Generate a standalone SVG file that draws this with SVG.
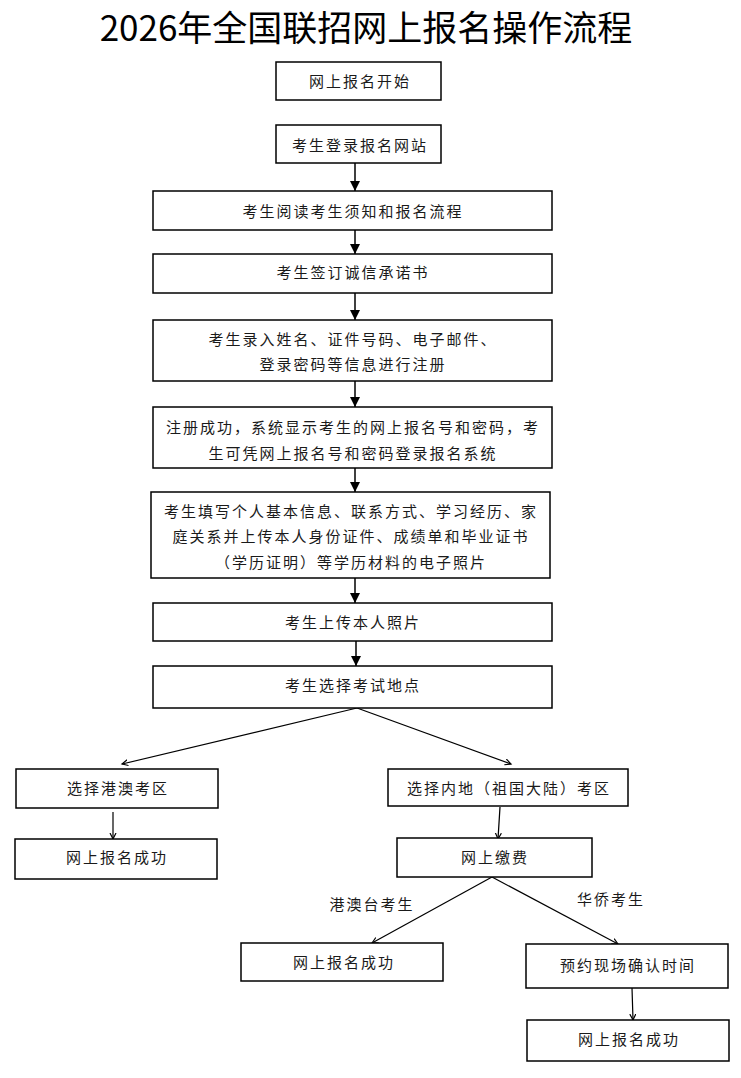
<svg xmlns="http://www.w3.org/2000/svg" width="741" height="1078" viewBox="0 0 741 1078">
<style>
.box{fill:#fff;stroke:#000;stroke-width:1.5}
.t{font-family:"Noto Sans CJK SC","Liberation Sans",sans-serif;font-size:15px;fill:#1a1a1a;text-anchor:middle;letter-spacing:2px}
.title{font-family:"Noto Sans CJK SC","Liberation Sans",sans-serif;font-size:35px;fill:#000;text-anchor:middle}
.c{stroke:#000;stroke-width:1.5;fill:none}
.thin{stroke:#000;stroke-width:1.2;fill:none}
</style>
<defs>
<marker id="fa" markerUnits="userSpaceOnUse" markerWidth="10" markerHeight="12" refX="10" refY="5" orient="auto">
<path d="M0,0 L10,5 L0,10 Z" fill="#000"/>
</marker>
<marker id="oa" markerUnits="userSpaceOnUse" markerWidth="8" markerHeight="8" refX="6" refY="3.5" orient="auto">
<path d="M0,0.5 L6,3.5 L0,6.5" fill="none" stroke="#000" stroke-width="1.2"/>
</marker>
</defs>
<rect width="741" height="1078" fill="#fff"/>
<text class="title" x="366" y="41">2026年全国联招网上报名操作流程</text>
<g id="connectors">
<line class="c" x1="355" y1="163" x2="355" y2="191" marker-end="url(#fa)"/>
<line class="c" x1="355" y1="230" x2="355" y2="254" marker-end="url(#fa)"/>
<line class="c" x1="355" y1="293" x2="355" y2="320" marker-end="url(#fa)"/>
<line class="c" x1="355" y1="381" x2="355" y2="407" marker-end="url(#fa)"/>
<line class="c" x1="355" y1="468" x2="355" y2="492" marker-end="url(#fa)"/>
<line class="c" x1="355" y1="578" x2="355" y2="603" marker-end="url(#fa)"/>
<line class="c" x1="356" y1="641" x2="356" y2="666" marker-end="url(#fa)"/>
<line class="thin" x1="357" y1="708" x2="122" y2="764" marker-end="url(#oa)"/>
<line class="thin" x1="357" y1="708" x2="511" y2="764" marker-end="url(#oa)"/>
<line class="thin" x1="113" y1="812" x2="113" y2="839" marker-end="url(#oa)"/>
<line class="thin" x1="500" y1="807" x2="498" y2="839" marker-end="url(#oa)"/>
<line class="thin" x1="492" y1="877" x2="372" y2="943" marker-end="url(#oa)"/>
<line class="thin" x1="492" y1="877" x2="618" y2="944" marker-end="url(#oa)"/>
<line class="thin" x1="632" y1="988" x2="633" y2="1020" marker-end="url(#oa)"/>
</g>
<g id="n1"><rect class="box" x="276" y="62" width="165" height="38"/><text class="t" x="360" y="87">网上报名开始</text></g>
<g id="n2"><rect class="box" x="276" y="125" width="165" height="38"/><text class="t" x="360" y="151">考生登录报名网站</text></g>
<g id="n3"><rect class="box" x="153" y="191" width="399" height="39"/><text class="t" x="353" y="217">考生阅读考生须知和报名流程</text></g>
<g id="n4"><rect class="box" x="153" y="254" width="399" height="39"/><text class="t" x="353" y="278">考生签订诚信承诺书</text></g>
<g id="n5"><rect class="box" x="153" y="320" width="399" height="61"/><text class="t" x="353" y="345">考生录入姓名、证件号码、电子邮件、</text><text class="t" x="353" y="370">登录密码等信息进行注册</text></g>
<g id="n6"><rect class="box" x="153" y="407" width="399" height="61"/><text class="t" x="353" y="433">注册成功，系统显示考生的网上报名号和密码，考</text><text class="t" x="353" y="459">生可凭网上报名号和密码登录报名系统</text></g>
<g id="n7"><rect class="box" x="151" y="492" width="399" height="86"/><text class="t" x="351" y="517">考生填写个人基本信息、联系方式、学习经历、家</text><text class="t" x="351" y="542">庭关系并上传本人身份证件、成绩单和毕业证书</text><text class="t" x="351" y="568">（学历证明）等学历材料的电子照片</text></g>
<g id="n8"><rect class="box" x="153" y="603" width="399" height="38"/><text class="t" x="353" y="628">考生上传本人照片</text></g>
<g id="n9"><rect class="box" x="153" y="666" width="399" height="42"/><text class="t" x="353" y="691">考生选择考试地点</text></g>
<g id="n10"><rect class="box" x="16" y="769" width="202" height="39"/><text class="t" x="118" y="794">选择港澳考区</text></g>
<g id="n11"><rect class="box" x="388" y="769" width="240" height="37"/><text class="t" x="509" y="794">选择内地（祖国大陆）考区</text></g>
<g id="n12"><rect class="box" x="15" y="839" width="202" height="40"/><text class="t" x="117" y="863">网上报名成功</text></g>
<g id="n13"><rect class="box" x="397" y="838" width="195" height="39"/><text class="t" x="495" y="863">网上缴费</text></g>
<g id="l1"><text class="t" x="372" y="910">港澳台考生</text></g>
<g id="l2"><text class="t" x="611" y="905">华侨考生</text></g>
<g id="n14"><rect class="box" x="241" y="943" width="202" height="38"/><text class="t" x="344" y="968">网上报名成功</text></g>
<g id="n15"><rect class="box" x="526" y="944" width="202" height="44"/><text class="t" x="628" y="971">预约现场确认时间</text></g>
<g id="n16"><rect class="box" x="527" y="1020" width="202" height="41"/><text class="t" x="629" y="1045">网上报名成功</text></g>
</svg>
